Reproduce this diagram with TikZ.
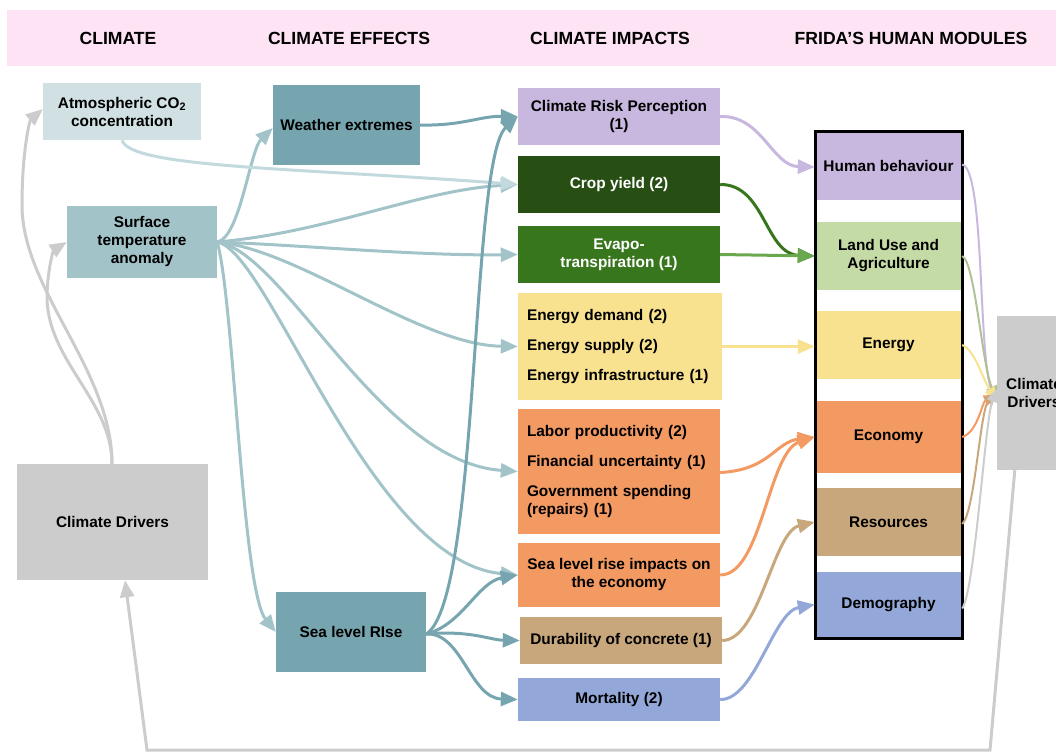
\documentclass[tikz,border=0pt]{standalone}
\usepackage{fontspec}
\setmainfont{Liberation Sans}
\usetikzlibrary{arrows.meta,calc}
\definecolor{hdrpink}{HTML}{FDE3F3}
\definecolor{co2c}{HTML}{D0E0E3}
\definecolor{co2line}{HTML}{C2DADE}
\definecolor{stac}{HTML}{A2C4C9}
\definecolor{tealc}{HTML}{76A5AF}
\definecolor{greyc}{HTML}{CCCCCC}
\definecolor{lavc}{HTML}{C8B8DF}
\definecolor{dgreen}{HTML}{274E13}
\definecolor{mgreen}{HTML}{38761D}
\definecolor{lgreenline}{HTML}{6AA84F}
\definecolor{lgreen}{HTML}{C5DBA6}
\definecolor{yelc}{HTML}{F8E290}
\definecolor{orac}{HTML}{F39A62}
\definecolor{tanc}{HTML}{C8A77C}
\definecolor{bluec}{HTML}{93A8D9}
\begin{document}
\begin{tikzpicture}[x=1pt,y=-1pt,
  bx/.style={rectangle, inner sep=0pt, align=center, text=black,
    font=\bfseries\fontsize{15.4}{18}\selectfont},
  hdrtext/.style={font=\bfseries\fontsize{17.6}{20}\selectfont, anchor=center},
  bigarr/.style={line width=3pt, -{Triangle[length=17pt,width=14pt]}},
  thinarr/.style={line width=2pt, -{Triangle[length=13pt,width=11pt]}},
]
\useasboundingbox (0,0) rectangle (1056,753);
\clip (0,0) rectangle (1056,753);

% header band
\fill[hdrpink] (7,10) rectangle (1056,66);
\node[hdrtext] (h1) at (118,38) {CLIMATE};
\node[hdrtext] (h2) at (349,38) {CLIMATE EFFECTS};
\node[hdrtext] (h3) at (610,38) {CLIMATE IMPACTS};
\node[hdrtext] (h4) at (911,38) {FRIDA’S HUMAN MODULES};

% climate column
\node[bx, fill=co2c, minimum width=158pt, minimum height=57pt] (co2) at (122,111.5) {Atmospheric CO\textsubscript{2}\\concentration};
\node[bx, fill=stac, minimum width=150pt, minimum height=72pt] (sta) at (142,242) {Surface\\temperature\\anomaly};
\node[bx, fill=greyc, minimum width=191pt, minimum height=116pt] (cdl) at (112.5,522) {Climate Drivers};

% effects column
\node[bx, fill=tealc, minimum width=147pt, minimum height=80pt] (wx) at (346.5,125) {Weather extremes};
\node[bx, fill=tealc, minimum width=150pt, minimum height=80pt] (slr) at (351,632) {Sea level RIse};

% impacts column
\node[bx, fill=lavc, minimum width=202pt, minimum height=57pt] (crp) at (619,116.5) {Climate Risk Perception\\(1)};
\node[bx, fill=dgreen, text=white, minimum width=202pt, minimum height=57pt] (crop) at (619,184.5) {Crop yield (2)};
\node[bx, fill=mgreen, text=white, minimum width=202pt, minimum height=57pt] (evap) at (619,254.5) {Evapo-\\transpiration (1)};
\node[bx, fill=yelc, align=left, text width=186pt, inner xsep=9pt, minimum height=107pt] (ene) at (620,346.5) {Energy demand (2)\\[12pt]Energy supply (2)\\[12pt]Energy infrastructure (1)};
\node[bx, fill=orac, align=left, text width=184pt, inner xsep=9pt, minimum height=125pt] (lab) at (619,471.5) {Labor productivity (2)\\[12pt]Financial uncertainty (1)\\[12pt]Government spending\\(repairs) (1)};
\node[bx, fill=orac, minimum width=202pt, minimum height=64pt] (slri) at (619,575) {Sea level rise impacts on\\the economy};
\node[bx, fill=tanc, minimum width=202pt, minimum height=47pt] (dur) at (621,640.5) {Durability of concrete (1)};
\node[bx, fill=bluec, minimum width=202pt, minimum height=43pt] (mort) at (619,699.5) {Mortality (2)};

% human modules
\node[bx, fill=lavc, minimum width=147pt, minimum height=69pt] (hb) at (888.5,165.5) {Human behaviour};
\node[bx, fill=lgreen, minimum width=147pt, minimum height=68pt] (lu) at (888.5,256) {Land Use and\\Agriculture};
\node[bx, fill=yelc, minimum width=147pt, minimum height=68pt] (en) at (888.5,345) {Energy};
\node[bx, fill=orac, minimum width=147pt, minimum height=72pt] (ec) at (888.5,437) {Economy};
\node[bx, fill=tanc, minimum width=147pt, minimum height=68pt] (res) at (888.5,522) {Resources};
\node[bx, fill=bluec, minimum width=147pt, minimum height=65pt] (dem) at (888.5,604.5) {Demography};
\node[draw=black, line width=3pt, inner sep=0pt, minimum width=147pt, minimum height=507pt] (frame) at (888.5,384.5) {};

% right climate drivers
\node[bx, fill=greyc, minimum width=74pt, minimum height=154pt] (cdr) at (1034,393) {Climate\\Drivers};

% grey links from climate drivers
\draw[bigarr, greyc] ([xshift=-0.5pt]cdl.north) .. controls (112,370) and (22,290) .. (22,205) .. controls (22,150) and (30,120) .. (co2.south west |- 0,109);
\draw[bigarr, greyc] ([xshift=-0.5pt]cdl.north) .. controls (112,400) and (46,360) .. (47,295) .. controls (48,265) and (54,250) .. (sta.west);

% surface temperature links
\draw[bigarr, stac] (sta.east) .. controls (240,238) and (250,150) .. (wx.west |- 0,128);
\draw[bigarr, stac] (sta.east) .. controls (330,232) and (420,190) .. (crop.west);
\draw[bigarr, stac] (sta.east) .. controls (300,245) and (420,256) .. (evap.west);
\draw[bigarr, stac] (sta.east) .. controls (300,250) and (420,345) .. (ene.west);
\draw[bigarr, stac] (sta.east) .. controls (285,252) and (380,462) .. (lab.west);
\draw[bigarr, stac] (sta.east) .. controls (270,252) and (370,562) .. (slri.west);
\draw[bigarr, stac] (sta.east) .. controls (234,300) and (242,590) .. (slr.west);

% CO2 to crop yield
\draw[bigarr, co2line] (co2.south) .. controls (130,168) and (300,168) .. (crop.west);

% weather extremes / sea level rise links
\draw[bigarr, tealc] (wx.east) .. controls (462,126) and (480,116) .. (crp.west);
\draw[bigarr, tealc] ([yshift=-2pt]slr.east) .. controls (480,600) and (470,160) .. (crp.west);
\draw[bigarr, tealc] ([yshift=-2pt]slr.east) .. controls (462,625) and (478,582) .. (slri.west);
\draw[bigarr, tealc] ([yshift=-2pt]slr.east) .. controls (470,630) and (490,640) .. (dur.west);
\draw[bigarr, tealc] ([yshift=-2pt]slr.east) .. controls (462,632) and (470,698) .. (mort.west);

% impacts to modules
\draw[bigarr, lavc] (crp.east) .. controls (762,115) and (772,166) .. (hb.west |- 0,167);
\draw[bigarr, mgreen] (crop.east) .. controls (765,184) and (765,254) .. (lu.west);
\draw[bigarr, lgreenline] (evap.east) -- (lu.west);
\draw[bigarr, yelc] (ene.east) -- (en.west |- ene.east);
\draw[bigarr, orac] ([yshift=-1pt]lab.east) .. controls (770,470) and (775,442) .. (ec.west);
\draw[bigarr, orac] (slri.east) .. controls (762,575) and (768,452) .. (ec.west);
\draw[bigarr, tanc] (dur.east) .. controls (760,640) and (773,532) .. (res.west);
\draw[bigarr, bluec] (mort.east) .. controls (755,700) and (773,612) .. (dem.west);

% modules to right climate drivers
\draw[thinarr, lavc] ([yshift=1pt]hb.east) .. controls (985,170) and (978,360) .. ([yshift=-8pt]cdr.west);
\draw[thinarr, lgreen!85!black!90] (lu.east) .. controls (975,262) and (982,365) .. ([yshift=-6pt]cdr.west);
\draw[thinarr, yelc] (en.east) .. controls (975,350) and (982,378) .. ([yshift=-7pt]cdr.west);
\draw[thinarr, orac] (ec.east) .. controls (978,432) and (982,402) .. ([yshift=-2pt]cdr.west);
\draw[thinarr, tanc] ([yshift=-2pt]res.east) .. controls (975,512) and (980,410) .. ([yshift=1pt]cdr.west);
\draw[thinarr, greyc] ([yshift=-4pt]dem.east) .. controls (975,590) and (985,420) .. ([yshift=4pt]cdr.west);

% feedback loop along the bottom
\coordinate (b1) at (990,750);
\coordinate (b2) at (147,750);
\draw[bigarr, greyc] ([xshift=18pt]cdr.south west) -- (b1) -- (b2) -- ([xshift=12.5pt]cdl.south);
\end{tikzpicture}
\end{document}
